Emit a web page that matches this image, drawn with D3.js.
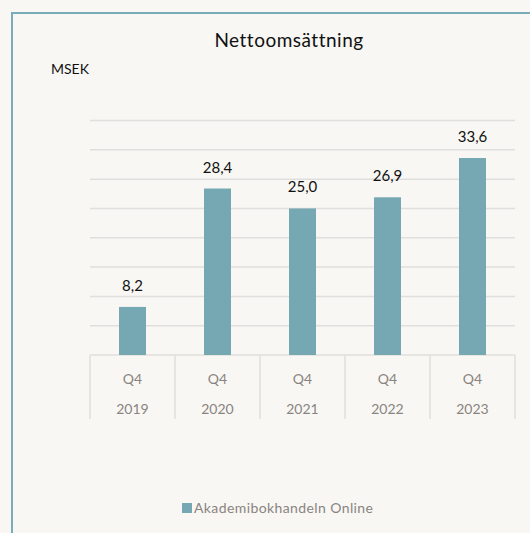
<!DOCTYPE html>
<html>
<head>
<meta charset="utf-8">
<script src="https://cdn.jsdelivr.net/npm/d3@7"></script>
<style>
  body { margin: 0; background: #f8f7f4; }
  svg { display: block; font-family: Lato, "Open Sans", sans-serif; }
</style>
</head>
<body>
<div id="chart"></div>
<script>
// Data
const years = ["2019", "2020", "2021", "2022", "2023"];
const quarters = ["Q4", "Q4", "Q4", "Q4", "Q4"];
const values = [8.2, 28.4, 25.0, 26.9, 33.6];
const gridTicks = [0, 5, 10, 15, 20, 25, 30, 35, 40];
const seriesName = "Akademibokhandeln Online";

const W = 530, H = 533;
const barColor = "#75a8b2";

const svg = d3.select("#chart").append("svg")
    .attr("width", W)
    .attr("height", H);

svg.append("rect").attr("width", W).attr("height", H).attr("fill", "#f8f7f4");

// frame (left and top edge visible)
svg.append("path")
    .attr("d", `M12,${H} L12,13 L${W},13`)
    .attr("fill", "none")
    .attr("stroke", "#78acb8")
    .attr("stroke-width", 2);

// scales
const x = d3.scaleBand()
    .domain(d3.range(values.length))
    .range([90, 515])
    .paddingInner(0)
    .paddingOuter(0);

const y = d3.scaleLinear()
    .domain([0, 40])
    .range([355, 120.5]);

// gridlines
svg.append("g")
    .selectAll("line")
    .data(gridTicks)
    .enter()
    .append("line")
        .attr("x1", 90)
        .attr("x2", 515)
        .attr("y1", d => y(d))
        .attr("y2", d => y(d))
        .attr("stroke", "#e1dfdd")
        .attr("stroke-width", 1.5);

// category separators
const seps = d3.range(values.length + 1);
svg.append("g")
    .selectAll("line")
    .data(seps)
    .enter()
    .append("line")
        .attr("x1", d => d < values.length ? x(d) : x.range()[1])
        .attr("x2", d => d < values.length ? x(d) : x.range()[1])
        .attr("y1", y(0))
        .attr("y2", 419)
        .attr("stroke", "#e1dfdd")
        .attr("stroke-width", 1.5);

// bars
const bw = 27;
svg.append("g")
    .selectAll("rect")
    .data(values)
    .enter()
    .append("rect")
        .attr("x", (d, i) => x(i) + x.bandwidth() / 2 - bw / 2)
        .attr("y", d => y(d))
        .attr("width", bw)
        .attr("height", d => y(0) - y(d))
        .attr("fill", barColor);

// value labels
svg.append("g")
    .selectAll("text")
    .data(values)
    .enter()
    .append("text")
        .attr("x", (d, i) => x(i) + x.bandwidth() / 2)
        .attr("y", d => y(d) - 16)
        .attr("text-anchor", "middle")
        .attr("font-size", 15)
        .attr("fill", "#111")
        .text(d => d.toFixed(1).replace(".", ","));

// category labels
svg.append("g")
    .selectAll("text")
    .data(quarters)
    .enter()
    .append("text")
        .attr("x", (d, i) => x(i) + x.bandwidth() / 2)
        .attr("y", 384)
        .attr("text-anchor", "middle")
        .attr("font-size", 14)
        .attr("fill", "#8a8480")
        .text(d => d);

svg.append("g")
    .selectAll("text")
    .data(years)
    .enter()
    .append("text")
        .attr("x", (d, i) => x(i) + x.bandwidth() / 2)
        .attr("y", 414)
        .attr("text-anchor", "middle")
        .attr("font-size", 14)
        .attr("fill", "#8a8480")
        .text(d => d);

// title
svg.append("text")
    .attr("x", 289)
    .attr("y", 47)
    .attr("text-anchor", "middle")
    .attr("font-size", 19)
    .attr("letter-spacing", 0.5)
    .attr("fill", "#111")
    .text("Nettoomsättning");

svg.append("text")
    .attr("x", 51)
    .attr("y", 74)
    .attr("font-size", 14)
    .attr("fill", "#111")
    .text("MSEK");

// legend
svg.append("rect")
    .attr("x", 182)
    .attr("y", 503)
    .attr("width", 10)
    .attr("height", 10)
    .attr("fill", barColor);

svg.append("text")
    .attr("x", 194)
    .attr("y", 513)
    .attr("font-size", 14)
    .attr("letter-spacing", 0.4)
    .attr("fill", "#8a8480")
    .text(seriesName);
</script>
</body>
</html>
